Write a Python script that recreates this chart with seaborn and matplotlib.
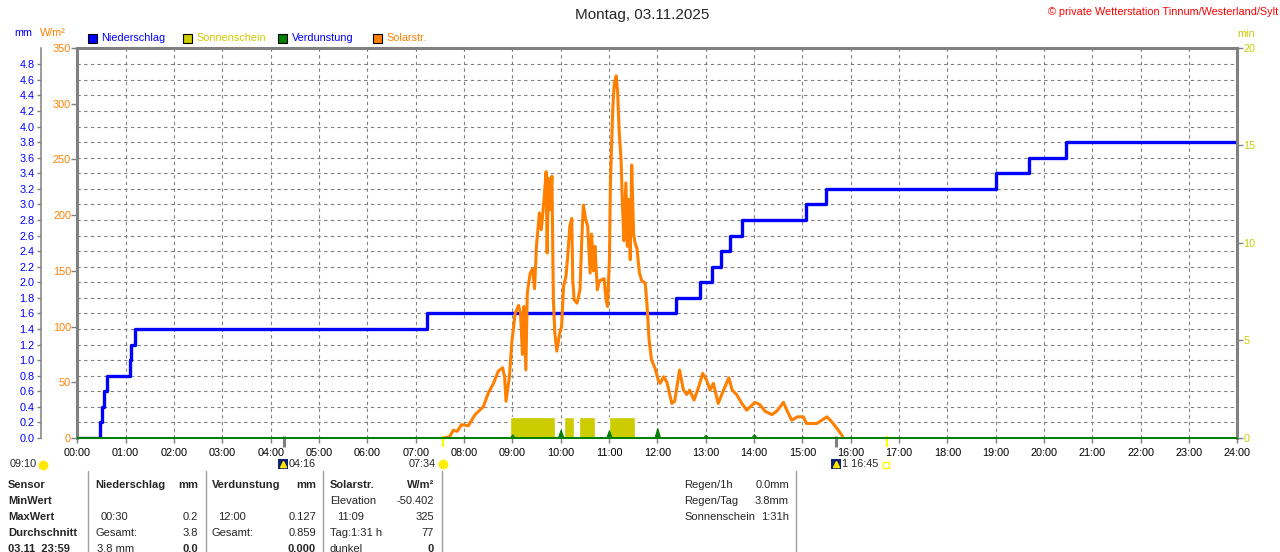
import numpy as np
import matplotlib
matplotlib.use("Agg")
import matplotlib.pyplot as plt
from matplotlib.patches import Rectangle
from matplotlib.lines import Line2D
from matplotlib.transforms import blended_transform_factory
import seaborn as sns

# ---------------------------------------------------------------
# data (hours of day)
# ---------------------------------------------------------------

# cumulative precipitation (mm)
rain_h = [0.0, 0.47, 0.51, 0.56, 0.61, 1.08, 1.12, 1.19, 7.23, 12.39, 12.88,
          13.13, 13.31, 13.50, 13.75, 15.07, 15.50, 19.00, 19.68, 20.45, 24.0]
rain_mm = [0.0, 0.2, 0.4, 0.6, 0.8, 1.0, 1.2, 1.4, 1.6, 1.8, 2.0,
           2.2, 2.4, 2.6, 2.8, 3.0, 3.2, 3.4, 3.6, 3.8, 3.8]

# solar radiation (W/m2)
solar_h = [7.56, 7.70, 7.78, 7.86, 7.95, 8.09, 8.23, 8.40, 8.50, 8.61, 8.71, 8.80,
           8.84, 8.87, 8.94, 8.99, 9.06, 9.13, 9.17, 9.21, 9.24, 9.28, 9.31, 9.37,
           9.42, 9.46, 9.50, 9.56, 9.60, 9.65, 9.70, 9.72, 9.75, 9.78, 9.82, 9.85,
           9.88, 9.92, 9.98, 10.02, 10.06, 10.11, 10.15, 10.19, 10.23, 10.25, 10.28,
           10.34, 10.40, 10.44, 10.47, 10.52, 10.56, 10.61, 10.64, 10.68, 10.71,
           10.76, 10.80, 10.90, 10.94, 10.97, 11.01, 11.03, 11.08, 11.11, 11.15,
           11.18, 11.21, 11.25, 11.28, 11.31, 11.35, 11.38, 11.41, 11.44, 11.47,
           11.51, 11.54, 11.58, 11.63, 11.68, 11.75, 11.79, 11.83, 11.88, 11.95,
           12.02, 12.06, 12.13, 12.20, 12.30, 12.36, 12.46, 12.54, 12.61, 12.67,
           12.76, 12.85, 12.94, 13.02, 13.09, 13.16, 13.26, 13.38, 13.48, 13.55,
           13.64, 13.75, 13.85, 14.02, 14.12, 14.23, 14.37, 14.47, 14.61, 14.68,
           14.78, 14.90, 15.02, 15.09, 15.30, 15.51, 15.60, 15.71, 15.81, 15.85]
solar_w = [0, 1, 7, 6, 12, 11, 21, 28, 40, 49, 60, 63,
           55, 33, 55, 86, 112, 119, 112, 75, 118, 61, 130, 148,
           152, 134, 172, 202, 187, 211, 239, 166, 233, 205, 235, 124,
           94, 78, 94, 100, 136, 145, 165, 190, 197, 142, 124,
           121, 133, 181, 209, 196, 190, 148, 183, 150, 172,
           133, 141, 143, 124, 118, 160, 229, 297, 318, 325,
           310, 276, 250, 208, 177, 229, 172, 214, 160, 245,
           183, 175, 170, 148, 141, 139, 118, 88, 70, 63,
           52, 49, 55, 50, 31, 33, 61, 43, 39, 43,
           34, 45, 58, 52, 43, 49, 31, 44, 54, 43,
           39, 31, 25, 32, 30, 24, 21, 24, 32, 25,
           16, 19, 19, 13, 13, 19, 15, 9, 3, 0]

# sunshine blocks (start hour, duration h, minutes)
sun_start = [8.95, 10.07, 10.39, 11.00]
sun_dur = [0.93, 0.21, 0.32, 0.54]
sun_min = [1.1, 1.1, 1.1, 1.1]

# evaporation per hour (mm)
evap_h = list(range(25))
evap_mm = [0.005, 0.01, 0.005, 0.005, 0.005, 0.01, 0.01, 0.01, 0.02, 0.045,
           0.105, 0.10, 0.127, 0.04, 0.05, 0.02, 0.02, 0.015, 0.01, 0.01,
           0.01, 0.01, 0.01, 0.015, 0.0]

hour_labels = ["%02d:00" % h for h in range(25)]

# ---------------------------------------------------------------
# style
# ---------------------------------------------------------------
sns.set_style("white")
plt.rcParams["font.family"] = ["Liberation Sans", "DejaVu Sans"]

BLUE = "#0000FF"
ORANGE = "#FF8000"
YELLOW = "#CCCC00"
GREEN = "#008000"
GRAY = "#808080"

W, H = 1280, 552
fig = plt.figure(figsize=(W / 100, H / 100), dpi=100)


def fx(x):
    return x / W


def fy(y):
    return 1 - y / H


left, right, top, bottom = 77.3, 1237.3, 48, 438
ax_mm = fig.add_axes([fx(left), fy(bottom), (right - left) / W, (bottom - top) / H])
ax_w = ax_mm.twinx()
ax_min = ax_mm.twinx()
ax_ev = ax_mm.twinx()   # evaporation drawn on top, same scale as mm

for a in (ax_mm, ax_w, ax_min, ax_ev):
    for s in a.spines.values():
        s.set_visible(False)

# ---------------------------------------------------------------
# precipitation on mm axis
# ---------------------------------------------------------------
ax_mm.set_xlim(0, 24)
ax_mm.set_ylim(0, 5.01)
ax_mm.grid(True, color=GRAY, linestyle=(0, (3, 3)), linewidth=0.8)
ax_mm.set_axisbelow(True)

sns.lineplot(x=rain_h, y=rain_mm, ax=ax_mm, color=BLUE, lw=2.4,
             drawstyle="steps-post", legend=False, zorder=3)

ax_mm.set_yticks(np.round(np.arange(0, 4.81, 0.2), 1))
ax_mm.set_yticklabels(["%.1f" % v for v in np.arange(0, 4.81, 0.2)])
ax_mm.spines["left"].set_visible(True)
ax_mm.spines["left"].set_position(("outward", 26.4))
ax_mm.spines["left"].set_color(GRAY)
ax_mm.spines["left"].set_linewidth(1.1)
ax_mm.spines["bottom"].set_visible(True)
ax_mm.spines["bottom"].set_color("#B0B0B0")
ax_mm.spines["bottom"].set_linewidth(0.8)
ax_mm.tick_params(axis="y", colors=GRAY, labelcolor=BLUE, labelsize=7.8,
                  length=3, width=1, pad=1.5, left=True, direction="out")
ax_mm.set_xticks(range(25))
ax_mm.set_xticklabels(hour_labels)
ax_mm.tick_params(axis="x", colors=GRAY, labelcolor="black", labelsize=7.8,
                  length=3.5, width=1, pad=4, bottom=True, direction="out")
ax_mm.set_xlabel("")
ax_mm.set_ylabel("")

# ---------------------------------------------------------------
# solar radiation on W/m2 axis
# ---------------------------------------------------------------
ax_w.set_ylim(0, 350)
sns.lineplot(x=solar_h, y=solar_w, ax=ax_w, color=ORANGE, lw=2.2, legend=False)
ax_w.yaxis.set_ticks_position("left")
ax_w.yaxis.set_label_position("left")
ax_w.set_yticks(range(0, 351, 50))
ax_w.tick_params(axis="y", colors=GRAY, labelcolor=ORANGE, labelsize=7.8,
                 length=4, width=1, pad=0.5, left=True, right=False, direction="out")
for side in ("left", "top"):
    ax_w.spines[side].set_visible(True)
    ax_w.spines[side].set_color(GRAY)
    ax_w.spines[side].set_linewidth(2.2)
ax_w.set_ylabel("")

# ---------------------------------------------------------------
# sunshine on min axis
# ---------------------------------------------------------------
ax_min.set_ylim(0, 20)
ax_min.bar(sun_start, sun_min, width=sun_dur, align="edge", color=YELLOW, zorder=1)
ax_min.set_yticks(range(0, 21, 5))
ax_min.tick_params(axis="y", colors=GRAY, labelcolor=YELLOW, labelsize=7.8,
                   length=4, width=1, pad=0.5, right=True, direction="out")
ax_min.spines["right"].set_visible(True)
ax_min.spines["right"].set_color(GRAY)
ax_min.spines["right"].set_linewidth(2.2)

# ---------------------------------------------------------------
# evaporation spikes (mm scale) on top layer
# ---------------------------------------------------------------
ax_ev.set_ylim(0, 5.01)
ax_ev.set_yticks([])
ex = np.ravel([[h - 0.06, h, h + 0.06] for h in evap_h])
ey = np.ravel([[0, v, 0] for v in evap_mm])
ax_ev.fill_between(ex, ey, color=GREEN, lw=0.8)
ax_ev.axhline(0, color=GREEN, lw=1.4)

# markers under the time axis (moon rise/set, sunrise/sunset)
trans = blended_transform_factory(ax_w.transData, ax_w.transAxes)
ax_w.vlines([4.27, 15.70], -0.024, 0.004, color=GRAY, lw=2.2, transform=trans, clip_on=False)
ax_w.vlines([7.567, 16.75], -0.024, 0.004, color="#FFFF00", lw=1.6, transform=trans, clip_on=False)

# ---------------------------------------------------------------
# header texts and legend
# ---------------------------------------------------------------
fig.text(fx(642), fy(15), "Montag, 03.11.2025", ha="center", va="center", fontsize=11)
fig.text(fx(1278), fy(12), "\u00a9 private Wetterstation Tinnum/Westerland/Sylt",
         ha="right", va="center", fontsize=7.8, color="#FF0000")
fig.text(fx(14), fy(33), "mm", ha="left", va="center", fontsize=7.8, color=BLUE)
fig.text(fx(40), fy(33), "W/m\u00b2", ha="left", va="center", fontsize=7.8, color=ORANGE)
fig.text(fx(1237), fy(34), "min", ha="left", va="center", fontsize=7.8, color=YELLOW)

legend_names = ["Niederschlag", "Sonnenschein", "Verdunstung", "Solarstr."]
legend_box = [BLUE, YELLOW, GREEN, ORANGE]
legend_text = [BLUE, YELLOW, BLUE, ORANGE]
legend_x = [87.5, 182.5, 277.5, 372.5]
for name, bc, tc, x in zip(legend_names, legend_box, legend_text, legend_x):
    fig.add_artist(Rectangle((fx(x), fy(42.5)), 9 / W, 9 / H, transform=fig.transFigure,
                             facecolor=bc, edgecolor="black", lw=0.8))
    fig.text(fx(x + 14), fy(38), name, ha="left", va="center", fontsize=7.8, color=tc)

# ---------------------------------------------------------------
# icon row under the axis
# ---------------------------------------------------------------
fig.text(fx(10), fy(464), "09:10", ha="left", va="center", fontsize=7.8)
fig.add_artist(Line2D([fx(43)], [fy(465)], marker="o", ms=6, color="#FFE800",
                      transform=fig.transFigure))
for x, lbl in [(278, "04:16"), (831, "1 16:45")]:
    fig.add_artist(Rectangle((fx(x), fy(469)), 10 / W, 10 / H, transform=fig.transFigure,
                             facecolor="#102070", edgecolor="none"))
    fig.add_artist(Line2D([fx(x + 5)], [fy(464)], marker="^", ms=4, color="#FFE800",
                          transform=fig.transFigure))
    fig.text(fx(x + 11), fy(464), lbl, ha="left", va="center", fontsize=7.8)
fig.text(fx(436), fy(464), "07:34", ha="right", va="center", fontsize=7.8)
fig.add_artist(Line2D([fx(443)], [fy(464)], marker="o", ms=6, color="#FFEE00",
                      transform=fig.transFigure))
fig.add_artist(Line2D([fx(886)], [fy(465)], marker="s", ms=4, mfc="white", mec="#FFFF00",
                      transform=fig.transFigure))

# ---------------------------------------------------------------
# bottom statistics table
# ---------------------------------------------------------------
row_y = [485, 501, 517, 533, 549]
for x in [88.3, 205.7, 323.3, 441.7, 795.5]:
    fig.add_artist(Line2D([fx(x), fx(x)], [fy(471), fy(552)], color="#A0A0A0", lw=1,
                          transform=fig.transFigure))

# (x, row, text, ha, bold)
table_cells = [
    (8, 0, "Sensor", "left", True), (8, 1, "MinWert", "left", True),
    (8, 2, "MaxWert", "left", True), (8, 3, "Durchschnitt", "left", True),
    (8, 4, "03.11  23:59", "left", True),
    (95, 0, "Niederschlag", "left", True), (198, 0, "mm", "right", True),
    (101, 2, "00:30", "left", False), (198, 2, "0.2", "right", False),
    (95, 3, "Gesamt:", "left", False), (198, 3, "3.8", "right", False),
    (97, 4, "3.8 mm", "left", False), (198, 4, "0.0", "right", True),
    (212, 0, "Verdunstung", "left", True), (316, 0, "mm", "right", True),
    (218, 2, "12:00", "left", False), (316, 2, "0.127", "right", False),
    (212, 3, "Gesamt:", "left", False), (316, 3, "0.859", "right", False),
    (316, 4, "0.000", "right", True),
    (330, 0, "Solarstr.", "left", True), (434, 0, "W/m\u00b2", "right", True),
    (330, 1, "Elevation", "left", False), (434, 1, "-50.402", "right", False),
    (337, 2, "11:09", "left", False), (434, 2, "325", "right", False),
    (330, 3, "Tag:1:31 h", "left", False), (434, 3, "77", "right", False),
    (330, 4, "dunkel", "left", False), (434, 4, "0", "right", True),
    (684, 0, "Regen/1h", "left", False), (789, 0, "0.0mm", "right", False),
    (684, 1, "Regen/Tag", "left", False), (789, 1, "3.8mm", "right", False),
    (684, 2, "Sonnenschein", "left", False), (789, 2, "1:31h", "right", False),
]
for x, r, s, ha, bold in table_cells:
    fig.text(fx(x), fy(row_y[r]), s, ha=ha, va="center", fontsize=8,
             fontweight="bold" if bold else "normal")

fig.savefig("out.png", dpi=100)
